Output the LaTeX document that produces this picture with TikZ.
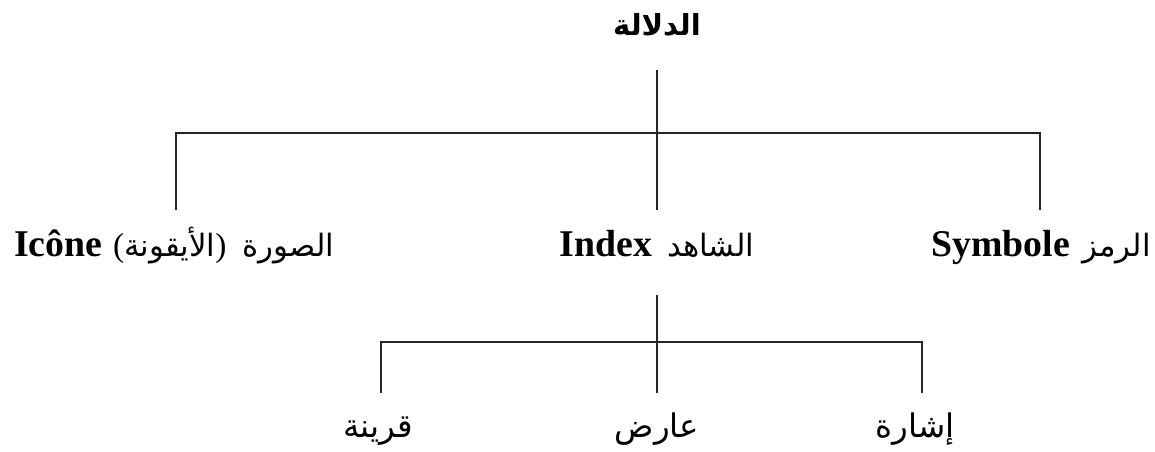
\documentclass[tikz,border=0pt]{standalone}
\usepackage{fontspec}
\setmainfont{Liberation Serif}
\newfontfamily\arabicfont[Script=Arabic]{DejaVu Sans}
\TeXXeTstate=1
\newcommand{\arsec}{\fontsize{17.5}{20}\arabicfont\mdseries}
\begin{document}
\begin{tikzpicture}[x=0.02cm,y=-0.02cm,
  conn/.style={line width=1.1pt, draw=black!85},
  toplbl/.style={anchor=base, inner xsep=0pt, inner ysep=14.3pt, text height=14pt, text depth=5pt},
  midlbl/.style={anchor=base, inner xsep=0pt, inner ysep=12.1pt, text height=14pt, text depth=10pt, font=\fontsize{21.5}{24}\selectfont},
  botlbl/.style={anchor=base, inner xsep=0pt, inner ysep=11pt, text height=14pt, text depth=6pt, font=\fontsize{18.5}{22}\arabicfont}
]
\useasboundingbox (0,0) rectangle (1155,452);
% root
\node[toplbl] (root) at (657,36) {\fontsize{16.5}{20}\arabicfont\bfseries\beginR الدلالة\endR};
% level 2
\node[midlbl] (icone) at (174,256) {\bfseries Icône\hspace{0.22cm}{\arsec{\fontsize{19}{20}\rmfamily(}\beginR الأيقونة\endR{\fontsize{19}{20}\rmfamily)}\hspace{0.32cm}\beginR الصورة\endR}};
\node[midlbl] (index) at (657,256) {\bfseries Index\hspace{0.3cm}{\arsec\beginR الشاهد\endR}};
\node[midlbl] (symb) at (1041,256) {\bfseries Symbole\hspace{0.25cm}{\arsec\beginR الرمز\endR}};
% level 3
\node[botlbl] (qar) at (378,437) {\beginR قرينة\endR};
\node[botlbl] (ard) at (657,437) {\beginR عارض\endR};
\node[botlbl] (ish) at (915,437) {\beginR إشارة\endR};
% junctions
\coordinate (j1) at (657,133);
\coordinate (l1) at (176,133);
\coordinate (r1) at (1040,133);
\coordinate (j2) at (657,342);
\coordinate (l2) at (381,342);
\coordinate (r2) at (922,342);
% connectors
\draw[conn] (root.south) -- (index.north);
\draw[conn] (icone.north -| l1) -- (l1) -- (r1) -- (symb.north -| r1);
\draw[conn] (index.south) -- (ard.north);
\draw[conn] (qar.north -| l2) -- (l2) -- (r2) -- (ish.north -| r2);
\end{tikzpicture}
\end{document}
